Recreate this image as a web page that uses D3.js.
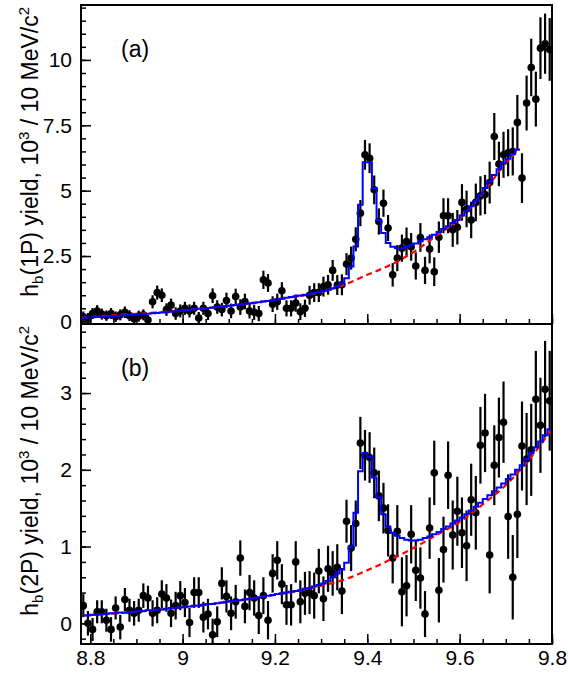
<!DOCTYPE html>
<html>
<head>
<meta charset="utf-8">
<title>h_b yield</title>
<script src="https://cdn.jsdelivr.net/npm/d3@7"></script>
<style>
  body { margin: 0; background: #fff; }
  text { font-family: "Liberation Sans", Arial, Helvetica, sans-serif; fill: #000; }
</style>
</head>
<body>
<svg id="mainsvg" width="568" height="674"></svg>
<script>
// binning: 10 MeV bins starting at 8.78 GeV
const binStart = 8.78;
const binWidth = 0.01;

// panel (a): h_b(1P) yields, 10^3 per bin
const valsA = [0.18,0.12,0.3,0.4,0.28,0.22,0.3,0.18,0.25,0.35,
  0.22,0.1,0.2,0.25,0.05,0.75,1.1,1.0,0.45,0.62,
  0.3,0.4,0.5,0.4,0.5,0.13,0.5,0.3,0.98,0.55,
  0.45,0.8,0.4,0.95,0.55,0.76,0.4,0.35,0.3,1.59,
  1.47,0.66,0.75,1.17,0.5,0.5,0.7,0.37,0.5,1.0,
  1.1,1.1,1.33,1.4,1.95,1.39,1.4,2.19,2.42,3.14,
  4.14,6.37,6.24,5.03,3.82,4.52,3.57,1.78,2.42,2.8,
  3.05,2.85,2.12,3.21,1.95,2.77,1.9,3.22,4.04,4.04,
  3.5,3.6,4.55,4.3,3.88,4.55,4.8,4.85,5.31,7.07,
  6.02,6.37,6.45,6.5,7.61,5.48,8.35,9.71,8.5,10.45,
  10.62,10.4];
const errA = [0.2,0.2,0.21,0.22,0.21,0.2,0.21,0.2,0.21,0.22,0.21,0.2,0.21,0.21,0.2,
  0.25,0.27,0.26,0.24,0.25,0.24,0.25,0.25,0.25,0.25,0.23,0.25,0.25,0.28,0.26,0.26,
  0.3,0.28,0.3,0.3,0.3,0.29,0.29,0.29,0.35,0.34,0.3,0.31,0.33,0.31,0.31,
  0.33,0.32,0.33,0.36,0.36,0.36,0.38,0.38,0.4,0.38,
  0.4,0.42,0.44,0.46,0.5,0.57,0.57,0.55,0.5,0.52,
  0.5,0.45,0.5,0.52,0.54,0.53,0.52,0.55,0.52,0.55,
  0.55,0.6,0.67,0.67,0.65,0.66,0.7,0.7,0.7,0.72,
  0.75,0.75,0.8,0.9,0.85,0.88,0.9,
  0.92,1.05,0.95,1.05,1.1,1.05,1.18,1.15,1.2];
// fit (signal + background), one value per bin, 8.78 - 9.73
const fitA = [0.14,0.15,0.16,0.17,0.18, 0.19,0.2,0.21,0.22,0.23,
  0.25,0.26,0.27,0.28,0.29, 0.31,0.32,0.34,0.35,0.37,
  0.39,0.41,0.43,0.44,0.46, 0.48,0.49,0.51,0.53,0.55,
  0.57,0.59,0.61,0.63,0.65, 0.67,0.69,0.71,0.73,0.76,
  0.78,0.81,0.84,0.87,0.9, 0.93,0.96,0.99,1.02,1.05,
  1.09,1.12,1.16,1.21,1.27, 1.35,1.45,1.65,2.1,2.86,
  4.46,6.09,6.09,5.1,3.88, 3.38,3.0,2.85,2.8,2.8,
  2.85,2.92,2.98,3.06,3.14, 3.22,3.31,3.42,3.53,3.64,
  3.76,3.88,4.05,4.22,4.4, 4.6,4.85,5.1,5.35,5.6,
  5.82,6.05,6.22,6.4,6.56];
// background only
const bgMassA = [8.78,8.85,8.9,8.95,9.0,9.05,9.1,9.15,9.2,9.25,9.3,9.35,9.4,9.45,9.5,9.55,9.6,9.65,9.7,9.73];
const bgValA  = [0.14,0.23,0.29,0.35,0.42,0.5,0.6,0.7,0.83,0.96,1.12,1.4,1.78,2.16,2.65,3.28,3.92,4.9,6.05,6.6];

// panel (b): h_b(2P)
const valsB = [0.23,0.0,-0.08,0.15,0.15,0.04,-0.08,0.2,-0.05,0.31,
  0.17,0.13,0.17,0.36,0.33,0.13,0.17,0.38,0.33,0.13,
  0.23,0.36,0.27,0.01,0.4,0.4,0.08,0.12,-0.15,0.02,
  0.52,0.35,0.13,0.28,0.85,0.22,0.4,0.33,0.1,0.36,
  0.04,0.65,0.82,0.51,0.24,0.24,0.8,0.28,0.39,0.4,
  0.36,0.68,0.32,0.71,0.65,0.73,0.42,1.33,0.98,1.3,
  2.35,2.19,2.16,1.96,1.66,1.5,1.21,0.85,1.2,0.41,
  0.49,1.16,0.69,0.59,0.12,1.24,1.96,0.43,0.96,1.93,
  1.15,1.46,1.18,1.01,1.61,1.44,2.32,2.48,0.89,2.06,
  2.42,2.62,1.39,0.6,1.42,2.31,2.14,2.26,2.92,2.58,
  3.05,2.9];
const errB = [0.15,0.16,0.15,0.15,0.15,0.15,0.16,0.15,0.16,0.15,0.15,0.16,0.15,0.16,0.16,
  0.17,0.17,0.18,0.18,0.18,0.18,0.19,0.19,0.19,0.2,0.2,0.2,0.2,0.21,0.2,0.21,
  0.21,0.22,0.22,0.23,0.22,0.23,0.23,0.24,0.24,0.25,0.25,0.25,0.26,0.26,0.27,
  0.27,0.28,0.28,0.28,0.3,0.29,0.29,0.3,0.29,0.3,
  0.3,0.28,0.3,0.3,0.34,0.33,0.33,0.33,0.33,0.33,
  0.34,0.33,0.34,0.45,0.4,0.38,0.4,0.4,0.3,0.4,
  0.42,0.42,0.43,0.44,0.45,0.45,0.46,0.46,0.47,0.48,
  0.5,0.51,0.5,0.52,0.52,0.53,0.55,
  0.55,0.57,0.58,0.6,0.6,0.63,0.62,0.63,0.65];
const fitB = [0.1,0.1,0.11,0.11,0.12, 0.12,0.13,0.13,0.14,0.14,
  0.15,0.15,0.16,0.16,0.17, 0.17,0.18,0.18,0.19,0.2,
  0.2,0.21,0.21,0.22,0.23, 0.23,0.24,0.25,0.25,0.26,
  0.27,0.28,0.29,0.29,0.3, 0.31,0.32,0.33,0.34,0.35,
  0.36,0.37,0.38,0.39,0.4, 0.41,0.42,0.43,0.45,0.46,
  0.48,0.5,0.52,0.55,0.6, 0.65,0.7,0.79,1.0,1.44,
  1.98,2.22,2.17,1.9,1.64, 1.42,1.26,1.18,1.14,1.11,
  1.09,1.08,1.08,1.09,1.11, 1.13,1.16,1.19,1.23,1.26,
  1.3,1.34,1.38,1.42,1.47, 1.52,1.57,1.62,1.67,1.72,
  1.77,1.82,1.88,1.94,2.0, 2.06,2.14,2.22,2.29,2.37,
  2.45,2.53];
const bgMassB = [8.78,8.9,9.0,9.1,9.2,9.25,9.3,9.35,9.4,9.45,9.5,9.55,9.6,9.65,9.7,9.75,9.8];
const bgValB  = [0.1,0.15,0.21,0.28,0.37,0.42,0.49,0.57,0.69,0.83,0.98,1.15,1.32,1.55,1.8,2.13,2.53];

// axis ticks
const xMajor = [8.8, 9, 9.2, 9.4, 9.6, 9.8];
const xLabels = ['8.8', '9', '9.2', '9.4', '9.6', '9.8'];
const yMajorA = [0, 2.5, 5, 7.5, 10];
const yLabelsA = ['0', '2.5', '5', '7.5', '10'];
const yMajorB = [0, 1, 2, 3];
const yLabelsB = ['0', '1', '2', '3'];

const svg = d3.select('#mainsvg');
const left = 81, right = 552;

const xScale = d3.scaleLinear().domain([8.78, 9.8]).range([left, right]);
const xMinor = d3.range(8.8, 9.8001, 0.05);

const panels = [
  {id: 'a', top: 5, bottom: 324, domain: [-0.1, 12.1], majors: yMajorA, labels: yLabelsA,
   minor: d3.range(0, 12.01, 0.5), vals: valsA, errs: errA, fit: fitA,
   bgM: bgMassA, bgV: bgValA, tag: '(a)', state: '1P', showX: false},
  {id: 'b', top: 324, bottom: 644, domain: [-0.27, 3.9], majors: yMajorB, labels: yLabelsB,
   minor: d3.range(-0.2, 3.81, 0.2), vals: valsB, errs: errB, fit: fitB,
   bgM: bgMassB, bgV: bgValB, tag: '(b)', state: '2P', showX: true}
];

const defs = svg.append('defs');

panels.forEach(p => {
  const yScale = d3.scaleLinear().domain(p.domain).range([p.bottom, p.top]);
  const g = svg.append('g').attr('id', 'panel_' + p.id);

  defs.append('clipPath').attr('id', 'clip_' + p.id)
    .append('rect')
    .attr('x', left).attr('y', p.top)
    .attr('width', right - left).attr('height', p.bottom - p.top);

  const plot = g.append('g').attr('clip-path', `url(#clip_${p.id})`);

  // data points with error bars
  const centers = p.vals.map((v, i) => binStart + binWidth * (i + 0.5));
  plot.selectAll('.err').data(p.vals).enter().append('line')
    .attr('class', 'err')
    .attr('x1', (d, i) => xScale(centers[i]))
    .attr('x2', (d, i) => xScale(centers[i]))
    .attr('y1', (d, i) => yScale(d - p.errs[i]))
    .attr('y2', (d, i) => yScale(d + p.errs[i]))
    .attr('stroke', '#000')
    .attr('stroke-width', 2.2);
  plot.selectAll('.pt').data(p.vals).enter().append('circle')
    .attr('class', 'pt')
    .attr('cx', (d, i) => xScale(centers[i]))
    .attr('cy', d => yScale(d))
    .attr('r', 3.8)
    .attr('fill', '#000');

  // background (dashed)
  const bgLine = d3.line()
    .x((d, i) => xScale(p.bgM[i]))
    .y(d => yScale(d))
    .curve(d3.curveMonotoneX);
  plot.append('path')
    .attr('d', bgLine(p.bgV))
    .attr('fill', 'none')
    .attr('stroke', '#ff0000')
    .attr('stroke-width', 2.2)
    .attr('stroke-dasharray', '6,4');

  // total fit as histogram steps
  const stepPts = p.fit.map((v, i) => [binStart + binWidth * i, v]);
  stepPts.push([binStart + binWidth * p.fit.length, p.fit[p.fit.length - 1]]);
  const fitLine = d3.line()
    .x(d => xScale(d[0]))
    .y(d => yScale(d[1]))
    .curve(d3.curveStepAfter);
  plot.append('path')
    .attr('d', fitLine(stepPts))
    .attr('fill', 'none')
    .attr('stroke', '#0000ff')
    .attr('stroke-width', 2);

  // y axis: minor + major ticks pointing inward
  const yMinorAxis = d3.axisLeft(yScale).tickValues(p.minor).tickSize(-5).tickFormat('');
  const yMajorAxis = d3.axisLeft(yScale).tickValues(p.majors).tickSize(-10)
    .tickPadding(9).tickFormat((d, i) => p.labels[i]);
  g.append('g').attr('transform', `translate(${left},0)`).call(yMinorAxis)
    .call(s => s.select('.domain').remove());
  const ya = g.append('g').attr('transform', `translate(${left},0)`).call(yMajorAxis);
  ya.select('.domain').remove();
  ya.selectAll('text').attr('font-size', 21).attr('font-family', '"Liberation Sans", Arial, sans-serif');

  // x axis at the bottom of each panel
  const xMinorAxis = d3.axisBottom(xScale).tickValues(xMinor).tickSize(-5).tickFormat('');
  const xMajorAxis = d3.axisBottom(xScale).tickValues(xMajor).tickSize(-10)
    .tickPadding(6).tickFormat((d, i) => p.showX ? xLabels[i] : '');
  g.append('g').attr('transform', `translate(0,${p.bottom})`).call(xMinorAxis)
    .call(s => s.select('.domain').remove());
  const xa = g.append('g').attr('transform', `translate(0,${p.bottom})`).call(xMajorAxis);
  xa.select('.domain').remove();
  xa.selectAll('text').attr('font-size', 21).attr('font-family', '"Liberation Sans", Arial, sans-serif');

  g.selectAll('.tick line').attr('stroke', '#000').attr('stroke-width', 1.5);

  // frame
  g.append('rect')
    .attr('x', left).attr('y', p.top)
    .attr('width', right - left).attr('height', p.bottom - p.top)
    .attr('fill', 'none').attr('stroke', '#000').attr('stroke-width', 2);

  // panel tag
  g.append('text')
    .attr('x', 121).attr('y', p.top + 52)
    .attr('font-size', 23)
    .text(p.tag);

  // y title
  const title = g.append('text')
    .attr('transform', `translate(38,${p.top + 2}) rotate(-90)`)
    .attr('text-anchor', 'end')
    .attr('font-size', 23);
  title.append('tspan').text('h');
  title.append('tspan').attr('dy', 5).attr('font-size', 15).text('b');
  title.append('tspan').attr('dy', -5).text(`(${p.state}) yield, 10`);
  title.append('tspan').attr('dy', -9).attr('font-size', 15).text('3');
  title.append('tspan').attr('dy', 9).text(' / 10 MeV/c');
  title.append('tspan').attr('dy', -9).attr('font-size', 15).text('2');
});
</script>
</body>
</html>
